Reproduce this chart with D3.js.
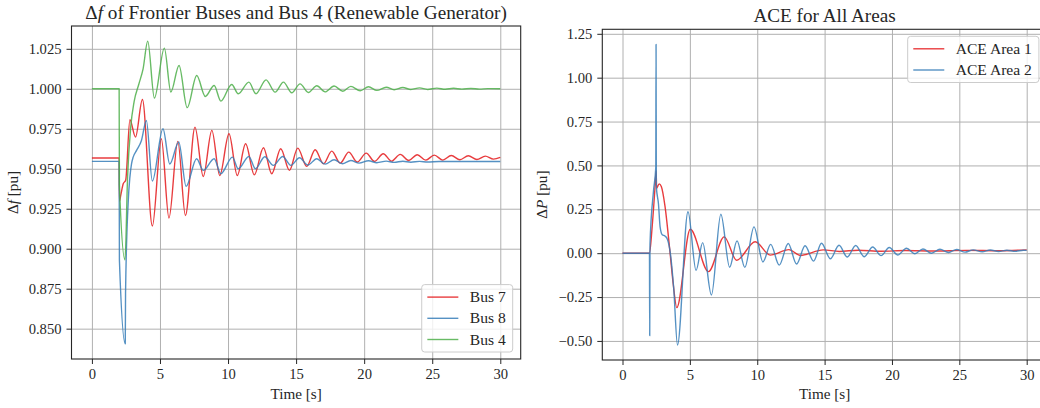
<!DOCTYPE html>
<html>
<head>
<meta charset="utf-8">
<script src="https://cdn.jsdelivr.net/npm/d3@7"></script>
<style>
  body { margin: 0; background: #fff; }
  svg { display: block; overflow: hidden; }
  text { font-family: 'Liberation Serif', 'DejaVu Serif', serif; fill: #262626; }
</style>
</head>
<body>
<div id="main"></div>
<script>
'use strict';

// data: [time in s, value]
const bus7 = [
  [0, 0.9567], [2.0, 0.9567], [2.02, 0.9298], [2.12, 0.9335], [2.3, 0.9406], [2.48, 0.9428],
  [2.79, 0.9806], [3.2, 0.9698], [3.71, 0.9933], [4.44, 0.9142], [5.1, 0.9688], [5.66, 0.9192],
  [6.31, 0.9671], [6.87, 0.9208], [7.57, 0.9760], [8.18, 0.9452], [8.81, 0.9740], [9.39, 0.9458],
  [10.07, 0.9719], [10.68, 0.9458], [11.29, 0.9656], [11.93, 0.9462], [12.6, 0.9631], [13.21, 0.9469],
  [13.87, 0.9625], [14.51, 0.9490], [15.12, 0.9629], [15.78, 0.9515], [16.4, 0.9619], [17.01, 0.9531],
  [17.62, 0.9610], [18.24, 0.9535], [18.87, 0.9604], [19.49, 0.9542], [20.15, 0.9598], [20.76, 0.9546],
  [21.4, 0.9594], [22.01, 0.9548], [22.65, 0.9590], [23.28, 0.9552], [23.9, 0.9588], [24.53, 0.9554],
  [25.15, 0.9585], [25.78, 0.9554], [26.4, 0.9583], [27.03, 0.9556], [27.65, 0.9581], [28.28, 0.9558],
  [28.9, 0.9579], [29.5, 0.9560], [30, 0.9571]
];
const bus8 = [
  [0, 0.9546], [2.0, 0.9546], [2.02, 0.893], [2.45, 0.8405], [2.47, 0.872], [2.67, 0.930],
  [2.79, 0.9448], [2.91, 0.9531], [3.03, 0.9573], [3.28, 0.9615], [3.64, 0.9677], [4.0, 0.9802],
  [4.44, 0.9423], [5.22, 0.9750], [5.72, 0.9530], [6.38, 0.9667], [6.92, 0.9390], [7.69, 0.9563],
  [8.18, 0.9490], [8.98, 0.9563], [9.47, 0.9469], [10.32, 0.9573], [10.75, 0.9500], [11.53, 0.9577],
  [12.01, 0.9500], [12.7, 0.9575], [13.33, 0.9521], [14.02, 0.9577], [14.61, 0.9521], [15.25, 0.9569],
  [15.86, 0.9523], [16.52, 0.9563], [17.13, 0.9529], [17.79, 0.9556], [18.4, 0.9531], [19.02, 0.9552],
  [19.63, 0.9535], [20.32, 0.9550], [20.93, 0.9538], [21.62, 0.9548], [22.2, 0.9540], [22.84, 0.9547],
  [23.43, 0.9541], [24.07, 0.9546], [24.66, 0.9542], [25.5, 0.9545], [30, 0.9545]
];
const bus4 = [
  [0, 1.0], [2.0, 1.0], [2.02, 0.940], [2.43, 0.893], [2.62, 0.945], [2.85, 0.976], [3.1, 0.992],
  [3.45, 1.003], [3.76, 1.0125], [4.1, 1.0298], [4.59, 0.9942], [5.32, 1.0254], [5.8, 0.9980],
  [6.4, 1.0146], [7.0, 0.9882], [7.7, 1.0083], [8.33, 0.9952], [8.98, 1.0021], [9.47, 0.9923],
  [10.27, 1.0027], [10.75, 0.9969], [11.53, 1.0042], [12.05, 0.9969], [12.79, 1.0056], [13.46, 0.9979],
  [14.07, 1.0042], [14.68, 0.9975], [15.29, 1.0031], [15.9, 0.9977], [16.52, 1.0019], [17.13, 0.9981],
  [17.79, 1.0017], [18.43, 0.9985], [19.02, 1.0015], [19.71, 0.9988], [20.32, 1.0013], [20.93, 0.9990],
  [21.62, 1.0010], [22.2, 0.9994], [22.84, 1.0008], [23.43, 0.9996], [24.07, 1.0006], [24.66, 0.9996],
  [25.34, 1.0004], [25.96, 0.9997], [26.57, 1.0003], [27.18, 0.9998], [27.84, 1.0002], [28.46, 0.9998],
  [29.1, 1.0001], [30, 1.0]
];
const ace1 = [
  [0, 0], [2.0, 0], [2.2, 0.15], [2.4, 0.36], [2.5, 0.47], [2.53, 0.37], [2.72, 0.395], [2.88, 0.38],
  [3.15, 0.27], [3.52, 0.01], [3.77, -0.18], [4.03, -0.31], [5.03, 0.136], [6.38, -0.105], [7.55, 0.093],
  [8.47, -0.04], [9.85, 0.065], [10.96, -0.011], [12.35, 0.02], [13.2, -0.013], [14.9, 0.019],
  [16.1, 0.010], [17.5, 0.017], [19.2, 0.011], [21.0, 0.015], [23.0, 0.012], [25.5, 0.016],
  [28.0, 0.014], [30, 0.019]
];
const ace2 = [
  [0, 0], [2.0, 0], [2.02, -0.47], [2.04, 0.05], [2.3, 0.354], [2.47, 0.49], [2.49, 1.19], [2.51, 0.38],
  [2.67, 0.28], [2.79, 0.15], [2.95, 0.105], [3.15, 0.098], [3.33, 0.08], [3.55, 0.0], [3.8, -0.2],
  [4.08, -0.523], [4.86, 0.236], [5.46, -0.098], [5.95, 0.06], [6.6, -0.238], [7.3, 0.222],
  [7.95, -0.08], [8.5, 0.07], [9.08, -0.081], [9.76, 0.15], [10.42, -0.05], [11.0, 0.05],
  [11.63, -0.068], [12.3, 0.055], [12.92, -0.062], [13.55, 0.042], [14.18, -0.045], [14.77, 0.057],
  [15.43, -0.032], [16.07, 0.045], [16.68, -0.022], [17.31, 0.044], [17.94, -0.02], [18.57, 0.035],
  [19.19, -0.014], [19.8, 0.032], [20.43, -0.01], [21.08, 0.028], [21.7, -0.003], [22.3, 0.024],
  [22.93, 0.0], [23.56, 0.022], [24.2, 0.004], [24.8, 0.021], [25.42, 0.006], [26.03, 0.019],
  [26.7, 0.008], [27.3, 0.018], [27.92, 0.010], [28.53, 0.017], [29.15, 0.011], [29.75, 0.017], [30, 0.016]
];

// tick labels
const timeTicks = [0, 5, 10, 15, 20, 25, 30];
const freqTicks = [0.850, 0.875, 0.900, 0.925, 0.950, 0.975, 1.000, 1.025];
const aceTicks = [-0.50, -0.25, 0.00, 0.25, 0.50, 0.75, 1.00, 1.25];

// configuration
let svg = undefined;
const canvas = { context: '#main', width: 1040, height: 408 };
const colors = { red: '#e41a1c', blue: '#377eb8', green: '#4daf4a', grid: '#b0b0b0', ink: '#262626' };

const panels = [
  {
    id: 'freq',
    box: { left: 71.5, right: 520.7, top: 26, bottom: 359 },
    title: [{ t: 'Δ' }, { t: 'f', it: true }, { t: ' of Frontier Buses and Bus 4 (Renewable Generator)' }],
    yLabel: [{ t: 'Δ' }, { t: 'f', it: true }, { t: ' [pu]' }],
    yLabelX: 18,
    yTicks: freqTicks,
    yFormat: d3.format('.3f'),
    legend: 'lower right',
    series: [
      { name: 'Bus 7', data: bus7, color: colors.red },
      { name: 'Bus 8', data: bus8, color: colors.blue },
      { name: 'Bus 4', data: bus4, color: colors.green }
    ]
  },
  {
    id: 'ace',
    box: { left: 602.3, right: 1046.9, top: 29.3, bottom: 360 },
    title: [{ t: 'ACE for All Areas' }],
    yLabel: [{ t: 'Δ' }, { t: 'P', it: true }, { t: ' [pu]' }],
    yLabelX: 547,
    yTicks: aceTicks,
    yFormat: d3.format('.2f'),
    legend: 'upper right',
    series: [
      { name: 'ACE Area 1', data: ace1, color: colors.red },
      { name: 'ACE Area 2', data: ace2, color: colors.blue }
    ]
  }
];

// methods
function setCanvas(domContext) {
  svg = d3.select(domContext)
    .append('svg')
    .attr('width', canvas.width)
    .attr('height', canvas.height);
}

function addRich(sel, parts) {
  parts.forEach(p => {
    sel.append('tspan')
      .attr('font-style', p.it ? 'italic' : null)
      .text(p.t);
  });
}

function padded(ext) {
  const m = (ext[1] - ext[0]) * 0.05;
  return [ext[0] - m, ext[1] + m];
}

function drawPanel(p) {
  const g = svg.append('g').attr('class', 'panel-' + p.id);
  const b = p.box;
  const all = p.series.flatMap(s => s.data);

  const x = d3.scaleLinear()
    .domain(padded(d3.extent(all, d => d[0])))
    .range([b.left, b.right]);
  const y = d3.scaleLinear()
    .domain(padded(d3.extent(all, d => d[1])))
    .range([b.bottom, b.top]);

  // grid
  const gx = g.append('g')
    .attr('transform', 'translate(0,' + b.bottom + ')')
    .call(d3.axisBottom(x).tickValues(timeTicks).tickSize(-(b.bottom - b.top)).tickFormat(''));
  const gy = g.append('g')
    .attr('transform', 'translate(' + b.left + ',0)')
    .call(d3.axisLeft(y).tickValues(p.yTicks).tickSize(-(b.right - b.left)).tickFormat(''));
  [gx, gy].forEach(a => {
    a.select('.domain').remove();
    a.selectAll('line').attr('stroke', colors.grid).attr('stroke-width', 1);
  });

  // lines
  g.append('clipPath').attr('id', 'clip-' + p.id)
    .append('rect')
    .attr('x', b.left).attr('y', b.top)
    .attr('width', b.right - b.left).attr('height', b.bottom - b.top);

  const line = d3.line()
    .x(d => x(d[0]))
    .y(d => y(d[1]))
    .curve(d3.curveMonotoneX);

  g.append('g')
    .attr('clip-path', 'url(#clip-' + p.id + ')')
    .selectAll('path')
    .data(p.series)
    .join('path')
    .attr('d', s => line(s.data))
    .attr('fill', 'none')
    .attr('stroke', s => s.color)
    .attr('stroke-opacity', 0.85)
    .attr('stroke-width', 1.4)
    .attr('stroke-linejoin', 'round');

  // axes
  const ax = g.append('g')
    .attr('transform', 'translate(0,' + b.bottom + ')')
    .call(d3.axisBottom(x).tickValues(timeTicks).tickSize(5).tickPadding(5).tickFormat(d3.format('d')));
  const ay = g.append('g')
    .attr('transform', 'translate(' + b.left + ',0)')
    .call(d3.axisLeft(y).tickValues(p.yTicks).tickSize(5).tickPadding(5).tickFormat(p.yFormat));
  [ax, ay].forEach(a => {
    a.select('.domain').remove();
    a.selectAll('line').attr('stroke', colors.ink).attr('stroke-width', 1);
    a.selectAll('text')
      .attr('fill', colors.ink)
      .style('font-family', "'Liberation Serif', serif")
      .style('font-size', '14.6px');
  });

  // spines
  g.append('rect')
    .attr('x', b.left).attr('y', b.top)
    .attr('width', b.right - b.left).attr('height', b.bottom - b.top)
    .attr('fill', 'none')
    .attr('stroke', colors.ink)
    .attr('stroke-width', 1.1);

  // title and labels
  const cx = (b.left + b.right) / 2;
  g.append('text')
    .attr('x', cx).attr('y', b.top - 7)
    .attr('text-anchor', 'middle')
    .style('font-size', '19.2px')
    .call(addRich, p.title);

  g.append('text')
    .attr('x', cx).attr('y', 399)
    .attr('text-anchor', 'middle')
    .style('font-size', '15.2px')
    .text('Time [s]');

  g.append('text')
    .attr('transform', 'translate(' + p.yLabelX + ',' + ((b.top + b.bottom) / 2) + ') rotate(-90)')
    .attr('text-anchor', 'middle')
    .style('font-size', '15.2px')
    .call(addRich, p.yLabel);

  drawLegend(g, p);
}

function drawLegend(g, p) {
  const b = p.box;
  const rowH = 21.2;
  const lg = g.append('g');
  const box = lg.append('rect')
    .attr('rx', 3)
    .attr('fill', '#fff')
    .attr('fill-opacity', 0.8)
    .attr('stroke', '#cccccc')
    .attr('stroke-width', 1);

  const items = lg.selectAll('g.item')
    .data(p.series)
    .join('g')
    .attr('class', 'item')
    .attr('transform', (d, i) => 'translate(0,' + (12.5 + i * rowH) + ')');
  items.append('line')
    .attr('x1', 5.6).attr('x2', 36.6)
    .attr('stroke', d => d.color)
    .attr('stroke-opacity', 0.85)
    .attr('stroke-width', 1.4);
  items.append('text')
    .attr('x', 48)
    .attr('dy', '0.33em')
    .style('font-size', '15.6px')
    .text(d => d.name);

  let maxW = 0;
  items.selectAll('text').each(function () { maxW = Math.max(maxW, this.getComputedTextLength()); });
  const w = 48 + maxW + 7;
  const h = 25 + (p.series.length - 1) * rowH;
  box.attr('width', w).attr('height', h);

  const lx = b.right - 8 - w;
  const ly = p.legend === 'lower right' ? b.bottom - 7 - h : b.top + 7;
  lg.attr('transform', 'translate(' + lx + ',' + ly + ')');
}

// control
setCanvas(canvas.context);
panels.forEach(drawPanel);
</script>
</body>
</html>
